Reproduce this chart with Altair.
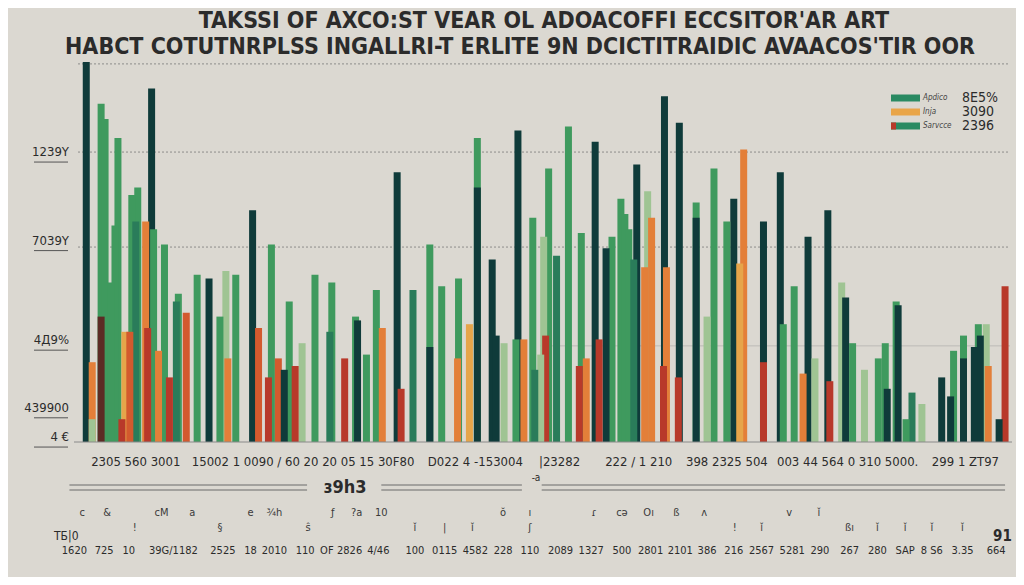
import altair as alt
import pandas as pd

# ---------------- data ----------------
TITLE_1 = "TAKSSI OF AXCO:ST VEAR OL  ADOACOFFI  ECCSITOR'AR ART"
TITLE_2 = "HABCT COTUTNRPLSS INGALLRI-T ERLITE 9N DCICTITRAIDIC AVAACOS'TIR OOR"

bar_pos = [82, 88, 88, 97, 97, 101, 107, 111, 114, 118, 121, 126, 128, 134, 132, 142, 148, 150, 144, 155,
           161, 166, 175, 173, 183, 194, 206, 223, 233, 217, 225, 250, 256, 269, 266, 276, 287, 282, 293, 300,
           313, 330, 328, 343, 356, 354, 365, 375, 381, 396, 400, 412, 429, 429, 441, 457, 458, 469, 477, 477,
           492, 496, 504, 518, 516, 524, 533, 535, 541, 544, 549, 546, 557, 569, 582, 580, 587, 596, 600, 607,
           613, 622, 626, 630, 635, 638, 646, 653, 649, 666, 665, 668, 681, 680, 698, 698, 709, 716, 729, 736,
           746, 742, 766, 766, 783, 786, 797, 811, 806, 818, 831, 833, 845, 849, 856, 868, 882, 889, 891, 900,
           902, 910, 916, 926, 946, 958, 955, 968, 968, 979, 983, 985, 991, 993, 1010, 1004]
bar_val = [100, 21, 6, 33, 89, 85, 42, 57, 80, 6, 29, 29, 65, 67, 58, 58, 93, 56, 30, 24,
           52, 17, 39, 37, 34, 44, 43, 45, 44, 33, 22, 61, 30, 52, 17, 22, 37, 19, 20, 26,
           44, 42, 29, 22, 32, 33, 23, 40, 30, 71, 14, 40, 25, 52, 41, 22, 43, 31, 80, 67,
           48, 28, 26, 82, 27, 27, 59, 19, 23, 54, 72, 28, 49, 83, 55, 20, 22, 79, 27, 51,
           54, 64, 60, 56, 48, 73, 46, 59, 66, 91, 20, 46, 84, 17, 63, 59, 33, 72, 58, 64,
           77, 47, 58, 21, 71, 31, 41, 54, 18, 22, 61, 16, 42, 38, 26, 19, 22, 26, 14, 37,
           36, 6, 13, 10, 17, 24, 12, 28, 22, 25, 31, 28, 31, 20, 41, 6]
bar_series = ["dark", "orange", "lgreen", "brown", "green", "green", "green", "green", "green", "red",
              "yellow", "rorange", "green", "green", "mgreen", "orange", "dark", "green", "red", "orange",
              "green", "red", "green", "mgreen", "rorange", "green", "dark", "lgreen", "green", "green",
              "orange", "dark", "rorange", "green", "red", "rorange", "green", "dark", "red", "lgreen",
              "green", "green", "mgreen", "red", "dark", "green", "green", "green", "orange", "dark",
              "red", "mgreen", "dark", "green", "green", "orange", "green", "yellow", "green", "dark",
              "dark", "dark", "lgreen", "dark", "green", "orange", "green", "mgreen", "lgreen", "lgreen",
              "green", "red", "mgreen", "green", "green", "red", "orange", "dark", "red", "dark",
              "green", "green", "green", "green", "mgreen", "dark", "orange", "orange", "lgreen", "dark",
              "red", "orange", "dark", "red", "green", "dark", "lgreen", "green", "green", "dark",
              "orange", "yellow", "dark", "red", "dark", "green", "green", "dark", "orange", "lgreen",
              "dark", "red", "lgreen", "dark", "green", "lgreen", "green", "green", "dark", "green",
              "dark", "green", "mgreen", "lgreen", "dark", "green", "dark", "green", "dark", "dark",
              "green", "dark", "lgreen", "orange", "red", "dark"]

series_names = ["dark", "green", "mgreen", "lgreen", "orange", "rorange", "red", "brown", "yellow"]
series_colors = ["#0f3b3a", "#3f9a5e", "#2a7c5a", "#9fc493", "#e37f39", "#d35a2e", "#b8392a", "#5c2b24", "#e6a54a"]

ylab_text = ["1239Y", "7039Y", "4Д9%", "439900", "4 €"]
ylab_val = [76.3, 53, 26.8, 9, 1.3]
grid_val = [99.5, 76.3, 51.3]

xlab_text = ["2305 560 3001", "15002 1 0090 / 60 20 20 05 15 30F80", "D022 4 -153004", "|23282",
             "222 / 1 210", "398 2325 504", "003 44 564 0 310 5000.", "299 1 ZT97"]
xlab_pos = [132, 301, 475, 560, 640, 729, 851, 970]

bot_text = ["1620", "725", "10", "39G/1182", "2525", "18", "2010", "110", "OF", "2826", "4/46", "100",
            "0115", "4582", "228", "110", "2089", "1327", "500", "2801", "2101", "386", "216", "2567",
            "5281", "290", "267", "280", "SAP", "8 S6", "3.35", "664"]
bot_pos = [70, 100, 125, 170, 220, 248, 272, 303, 325, 348, 377, 414, 444, 475, 503, 530, 561, 592,
           623, 652, 682, 709, 736, 764, 795, 823, 853, 881, 909, 936, 967, 1001]

mini_text = ["c", "&", "!", "cM", "a", "§", "e", "¾h", "ŝ", "ƒ", "?a", "10", "ǐ", "|", "ǐ", "ŏ", "ʃ",
             "ı", "ɾ", "cə", "Oı", "ß", "ʌ", "!", "ǐ", "v", "ǐ", "ßı", "ǐ", "ǐ", "ǐ", "ǐ"]
mini_pos = [78, 103, 131, 158, 189, 217, 248, 272, 306, 331, 355, 380, 414, 444, 472, 503, 530, 530,
            595, 623, 650, 678, 706, 737, 764, 792, 822, 853, 881, 909, 936, 967]
mini_row = [1, 1, 0, 1, 1, 0, 1, 1, 0, 1, 1, 1, 0, 0, 0, 1, 0, 1, 1, 1, 1, 1, 1, 0, 0, 1, 1, 0, 0, 0, 0, 0]

legend_names = ["Apdico", "Inja", "Sarvcce"]
legend_values = ["8E5%", "3090", "2396"]
legend_colors = ["#2a8a62", "#e9a548", "#2a8a62"]

# ---------------- chart ----------------
FONT = "'DejaVu Sans Condensed', 'Liberation Sans', sans-serif"
INK = "#2b2b2b"
X = alt.X("x:Q", scale=alt.Scale(domain=[8, 1016], nice=False, zero=False), axis=None)
YSCALE = alt.Scale(domain=[0, 100], range=[434, 54], nice=False, zero=False)

bars_df = pd.DataFrame({"x": bar_pos, "v": bar_val, "s": bar_series})
bars_df = bars_df.sort_values("v", ascending=False).reset_index(drop=True)
bars_df["o"] = range(len(bars_df))

bars = alt.Chart(bars_df).mark_bar(size=7, opacity=1).encode(
    x=X,
    y=alt.Y("v:Q", scale=YSCALE, axis=None),
    y2=alt.datum(0),
    color=alt.Color("s:N", scale=alt.Scale(domain=series_names, range=series_colors), legend=None),
    order=alt.Order("o:Q"),
)

grid_df = pd.DataFrame({"v": grid_val})
grid = alt.Chart(grid_df).mark_rule(strokeDash=[2, 2], color="#7a7a7a", strokeWidth=1, opacity=0.8).encode(
    y=alt.Y("v:Q", scale=YSCALE, axis=None), x=alt.value(70), x2=alt.value(1002)
)
grid2 = alt.Chart(pd.DataFrame({"v": [25.3]})).mark_rule(color="#9a9a9a", strokeWidth=0.8, opacity=0.6).encode(
    y=alt.Y("v:Q", scale=YSCALE, axis=None), x=alt.value(532), x2=alt.value(1002)
)
baseline = alt.Chart(pd.DataFrame({"v": [0]})).mark_rule(color="#8a8a8a", strokeWidth=1).encode(
    y=alt.Y("v:Q", scale=YSCALE, axis=None), x=alt.value(66), x2=alt.value(1004)
)

ylab_df = pd.DataFrame({"t": ylab_text, "v": ylab_val})
ylabs = alt.Chart(ylab_df).mark_text(font=FONT, fontSize=13, align="right", baseline="middle", color=INK).encode(
    y=alt.Y("v:Q", scale=YSCALE, axis=None), x=alt.value(61), text="t:N"
)
yunder = alt.Chart(ylab_df).mark_rule(color="#555555", strokeWidth=1, yOffset=10).encode(
    y=alt.Y("v:Q", scale=YSCALE, axis=None), x=alt.value(26), x2=alt.value(60)
)

title1 = alt.Chart(pd.DataFrame({"t": [TITLE_1]})).mark_text(
    font=FONT, fontSize=23, fontWeight="bold", color=INK, align="center", baseline="middle"
).encode(x=alt.value(536), y=alt.value(13), text="t:N")
title2 = alt.Chart(pd.DataFrame({"t": [TITLE_2]})).mark_text(
    font=FONT, fontSize=23, fontWeight="bold", color=INK, align="center", baseline="middle"
).encode(x=alt.value(512), y=alt.value(39), text="t:N")

xlab_df = pd.DataFrame({"x": xlab_pos, "t": xlab_text})
xlabs = alt.Chart(xlab_df).mark_text(font=FONT, fontSize=13, color=INK, baseline="middle").encode(
    x=X, y=alt.value(454), text="t:N"
)

# double rule row
seg_df = pd.DataFrame({"x": [65, 380, 542], "x2": [305, 522, 1010]})
seg_a = alt.Chart(seg_df).mark_rule(color="#6a6a6a", strokeWidth=1).encode(
    x=X, x2="x2:Q", y=alt.value(477)
)
seg_b = alt.Chart(seg_df).mark_rule(color="#6a6a6a", strokeWidth=1).encode(
    x=X, x2="x2:Q", y=alt.value(482)
)
mid_lab = alt.Chart(pd.DataFrame({"t": ["ɜ9h3"]})).mark_text(
    font=FONT, fontSize=18, fontWeight="bold", color=INK, baseline="middle"
).encode(x=alt.value(337), y=alt.value(480), text="t:N")
mid_small = alt.Chart(pd.DataFrame({"t": ["-a"]})).mark_text(
    font=FONT, fontSize=10, color=INK, baseline="middle"
).encode(x=alt.value(528), y=alt.value(470), text="t:N")

mini_df = pd.DataFrame({"x": mini_pos, "t": mini_text, "r": mini_row})
mini = alt.Chart(mini_df).mark_text(font=FONT, fontSize=11, color="#3a3a3a", baseline="middle").encode(
    x=X, y=alt.Y("r:Q", scale=alt.Scale(domain=[0, 1], range=[520, 505]), axis=None), text="t:N"
)
bot_df = pd.DataFrame({"x": bot_pos, "t": bot_text})
bots = alt.Chart(bot_df).mark_text(font=FONT, fontSize=11, color=INK, baseline="middle").encode(
    x=X, y=alt.value(543), text="t:N"
)
edge_l = alt.Chart(pd.DataFrame({"t": ["TБ|0"]})).mark_text(
    font=FONT, fontSize=12, color=INK, baseline="middle", align="left"
).encode(x=alt.value(46), y=alt.value(528), text="t:N")
edge_r = alt.Chart(pd.DataFrame({"t": ["91"]})).mark_text(
    font=FONT, fontSize=15, fontWeight="bold", color=INK, baseline="middle", align="left"
).encode(x=alt.value(985), y=alt.value(528), text="t:N")

leg_df = pd.DataFrame({"name": legend_names, "val": legend_values, "c": legend_colors, "i": [0, 1, 2]})
LEGY = alt.Y("i:O", scale=alt.Scale(domain=[0, 1, 2], range=[83, 125]), axis=None)
leg_sw = alt.Chart(leg_df).mark_rule(strokeWidth=7).encode(
    y=LEGY, x=alt.value(883), x2=alt.value(912), color=alt.Color("c:N", scale=None)
)
leg_red = alt.Chart(leg_df[leg_df["i"] == 2]).mark_rule(strokeWidth=7, color="#b8392a").encode(
    y=LEGY, x=alt.value(883), x2=alt.value(888)
)
leg_name = alt.Chart(leg_df).mark_text(font=FONT, fontSize=8, fontStyle="italic", color="#444444",
                                       align="left", baseline="middle").encode(
    y=LEGY, x=alt.value(915), text="name:N"
)
leg_val = alt.Chart(leg_df).mark_text(font=FONT, fontSize=14, color=INK, align="left", baseline="middle").encode(
    y=LEGY, x=alt.value(954), text="val:N"
)

chart = alt.layer(
    grid, grid2, bars, baseline, ylabs, yunder, title1, title2, xlabs, seg_a, seg_b, mid_lab, mid_small,
    mini, bots, edge_l, edge_r, leg_sw, leg_red, leg_name, leg_val
).resolve_scale(y="independent").properties(
    width=1008, height=569, autosize=alt.AutoSizeParams(type="none"), padding=0, background="#dbd8d1"
).configure_view(stroke=None)

chart.save("out.html", embed_options={"renderer": "svg", "actions": False})
